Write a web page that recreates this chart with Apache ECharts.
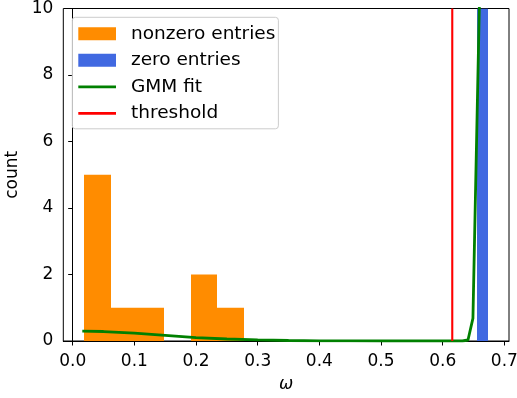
<!DOCTYPE html>
<html><head><meta charset="utf-8">
<script src="https://cdn.jsdelivr.net/npm/echarts@6/dist/echarts.min.js"></script>
<style>html,body{margin:0;padding:0;background:#fff}#c{width:517px;height:398px}</style>
</head><body><div id="c"></div>
<script>
// Histogram of nonzero entries (bin edges + counts)
const nonzeroEdges = [0.0183, 0.0616, 0.1048, 0.1481, 0.1913, 0.2346, 0.2778];
const nonzeroCounts = [5, 1, 1, 0, 2, 1];
// Histogram of zero entries (goes beyond the visible range)
const zeroEdges = [0.656, 0.674];
const zeroCounts = [90];
// GMM fit curve
const gmmX = [0.0156, 0.05, 0.10, 0.15, 0.20, 0.25, 0.30, 0.35, 0.40, 0.45, 0.50, 0.55, 0.60, 0.632, 0.641, 0.649, 0.662];
const gmmY = [0.30, 0.285, 0.235, 0.17, 0.10, 0.06, 0.035, 0.015, 0.005, 0.002, 0, 0, 0, 0, 0.03, 0.68, 12.4];
// Threshold
const threshold = 0.6155;
// Tick labels
const xTicks = [0.0, 0.1, 0.2, 0.3, 0.4, 0.5, 0.6, 0.7];
const yTicks = [0, 2, 4, 6, 8, 10];

const FONT = 'DejaVu Sans';
function histData(edges, counts) {
  return counts.map((c, i) => [edges[i], edges[i + 1], c]);
}
function makeRender(color) {
  return function (params, api) {
    const cs = params.coordSys;
    const p0 = api.coord([api.value(0), 0]);
    const p1 = api.coord([api.value(1), api.value(2)]);
    const top = Math.max(p1[1], cs.y);
    const h = p0[1] - top;
    if (h <= 0) return null;
    const x0 = Math.round(p0[0]), x1 = Math.round(p1[0]);
    return { type: 'rect', shape: { x: x0, y: top, width: x1 - x0, height: h }, style: { fill: color } };
  };
}
const chart = echarts.init(document.getElementById('c'), null, { renderer: 'canvas' });
const lineIcon = 'path://M0,0H40V3H0Z';
chart.setOption({
  animation: false,
  backgroundColor: '#fff',
  textStyle: { fontFamily: FONT },
  grid: { left: 63.3, right: 8, top: 8.5, bottom: 57, containLabel: false, outerBoundsMode: 'none',
          show: true, borderColor: '#000', borderWidth: 1, backgroundColor: 'transparent' },
  xAxis: {
    type: 'value', min: -0.0152, max: 0.7075,
    name: 'ω', nameLocation: 'middle', nameGap: 35,
    nameTextStyle: { fontFamily: FONT, fontSize: 17, fontStyle: 'italic', color: '#000' },
    splitLine: { show: false },
    axisLine: { show: true, lineStyle: { color: '#000', width: 1 } },
    axisTick: { show: true, length: 4.5, lineStyle: { color: '#000', width: 1 }, customValues: xTicks },
    axisLabel: { customValues: xTicks, margin: 12, fontSize: 17, fontFamily: FONT, color: '#000', formatter: v => v.toFixed(1) }
  },
  yAxis: {
    type: 'value', min: 0, max: 10, interval: 2,
    name: 'count', nameLocation: 'middle', nameGap: 40.5,
    nameTextStyle: { fontFamily: FONT, fontSize: 17, color: '#000' },
    splitLine: { show: false },
    axisLine: { show: true, lineStyle: { color: '#000', width: 1 } },
    axisTick: { show: true, length: 4.5, lineStyle: { color: '#000', width: 1 }, customValues: yTicks },
    axisLabel: { customValues: yTicks, margin: 10, fontSize: 17, fontFamily: FONT, color: '#000' }
  },
  legend: {
    orient: 'vertical', left: 72.3, top: 17.3,
    padding: [7, 3, 6, 6],
    itemWidth: 37.7, itemHeight: 13, itemGap: 7.5,
    backgroundColor: 'rgba(255,255,255,0.8)', borderColor: '#cccccc', borderWidth: 1, borderRadius: 3,
    textStyle: { fontFamily: FONT, fontSize: 18.5, color: '#000', padding: [0, 0, 0, 10], lineHeight: 18 },
    data: [
      { name: 'nonzero entries', icon: 'rect', itemStyle: { color: '#FF8C00' } },
      { name: 'zero entries', icon: 'rect', itemStyle: { color: '#4169E1' } },
      { name: 'GMM fit', icon: lineIcon, itemStyle: { color: '#008000' } },
      { name: 'threshold', icon: lineIcon, itemStyle: { color: '#FF0000' } }
    ]
  },
  series: [
    { name: 'nonzero entries', type: 'custom', clip: true, renderItem: makeRender('#FF8C00'), itemStyle: { color: '#FF8C00' },
      encode: { x: [0, 1], y: 2 }, data: histData(nonzeroEdges, nonzeroCounts) },
    { name: 'zero entries', type: 'custom', clip: true, renderItem: makeRender('#4169E1'), itemStyle: { color: '#4169E1' },
      encode: { x: [0, 1], y: 2 }, data: histData(zeroEdges, zeroCounts) },
    { name: 'GMM fit', type: 'line', showSymbol: false, symbol: 'none', clip: true, smooth: false,
      lineStyle: { color: '#008000', width: 2.8 }, itemStyle: { color: '#008000' },
      data: gmmX.map((x, i) => [x, gmmY[i]]) },
    { name: 'threshold', type: 'line', showSymbol: false, symbol: 'none', clip: true,
      lineStyle: { color: '#FF0000', width: 2.1 }, itemStyle: { color: '#FF0000' },
      data: [[threshold, 0], [threshold, 10]] }
  ]
});
</script></body></html>
